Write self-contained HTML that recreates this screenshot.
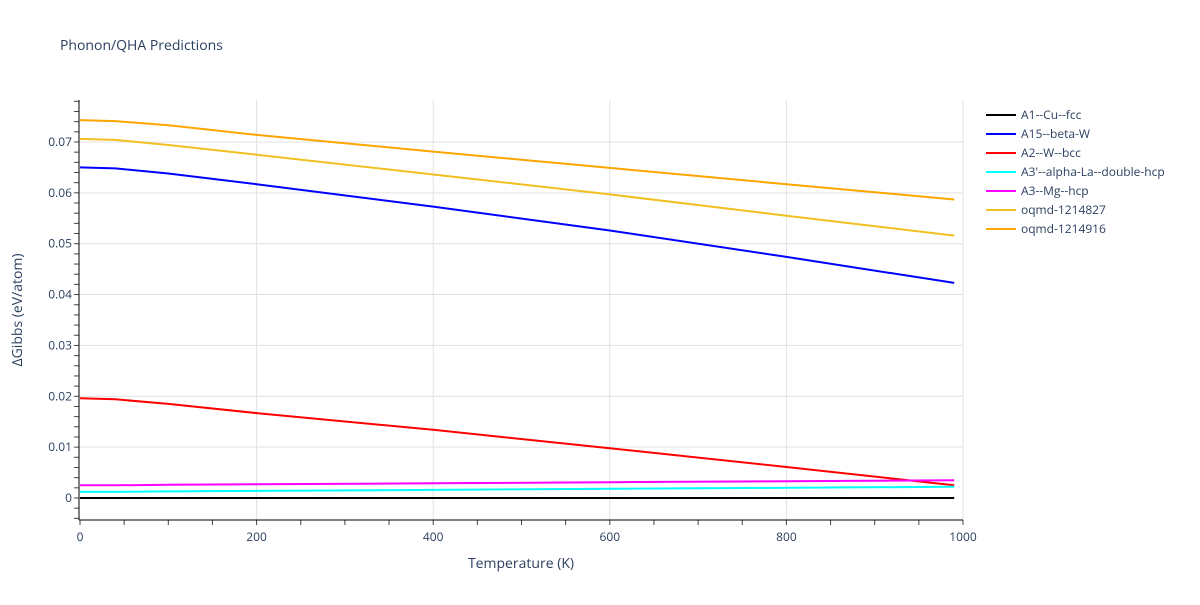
<!DOCTYPE html>
<html><head><meta charset="utf-8"><style>
body{margin:0;background:#fff;}
svg text{font-family:"Open Sans","Liberation Sans",sans-serif;fill:#2a3f5f;}
</style></head><body>
<svg id="chart" width="1200" height="600" xmlns="http://www.w3.org/2000/svg">
<rect width="1200" height="600" fill="#fff"/>
<text x="60" y="50" font-size="14">Phonon/QHA Predictions</text>
<g id="grid"></g><g id="series"></g><g id="axes"></g><g id="legend"></g>
<text x="521" y="568" font-size="14" text-anchor="middle">Temperature (K)</text>
<text transform="translate(22,310) rotate(-90)" font-size="14" text-anchor="middle">ΔGibbs (eV/atom)</text>
</svg>
<script>
const xTicks=[0,200,400,600,800,1000];
const yTicks=[0,0.01,0.02,0.03,0.04,0.05,0.06,0.07];
const yTickLabels=["0","0.01","0.02","0.03","0.04","0.05","0.06","0.07"];
const seriesNames=["A1--Cu--fcc","A15--beta-W","A2--W--bcc","A3'--alpha-La--double-hcp","A3--Mg--hcp","oqmd-1214827","oqmd-1214916"];
const seriesColors=["#000000","#0000ff","#ff0000","#00ffff","#ff00ff","#f0c020","#ffa500"];
const temps=[0,40,100,200,400,600,800,990];
const a1=[0,0,0,0,0,0,0,0];
const a15=[0.0650,0.0648,0.0638,0.0617,0.0573,0.0526,0.0474,0.0423];
const a2=[0.0196,0.0194,0.0185,0.0167,0.0134,0.0098,0.0061,0.0025];
const a3p=[0.0012,0.0012,0.0013,0.0014,0.0016,0.0018,0.0020,0.0022];
const a3=[0.0025,0.0025,0.0026,0.0027,0.0029,0.0031,0.0033,0.0035];
const o27=[0.0706,0.0704,0.0694,0.0675,0.0636,0.0597,0.0555,0.0516];
const o16=[0.0743,0.0741,0.0733,0.0714,0.0681,0.0649,0.0617,0.0587];
const allSeries=[a1,a15,a2,a3p,a3,o27,o16];
const X0=80,X1=963,Y0=498,YPER=5086;
const sx=v=>X0+(X1-X0)*v/1000;
const sy=v=>Y0-v*YPER;
const NS="http://www.w3.org/2000/svg";
function mk(tag,attrs,parent){const e=document.createElementNS(NS,tag);for(const k in attrs)e.setAttribute(k,attrs[k]);parent.appendChild(e);return e;}
const grid=document.getElementById('grid'),axes=document.getElementById('axes'),ser=document.getElementById('series'),leg=document.getElementById('legend');
xTicks.forEach(t=>{if(t>0){const l=mk('line',{x1:sx(t),x2:sx(t),y1:100,y2:520,stroke:'#e1e1e1'},grid);}
 const tx=mk('text',{x:sx(t),y:541,'font-size':12,'text-anchor':'middle'},axes);tx.textContent=t;});
for(let t=0;t<=1000;t+=50){const l=mk('line',{x1:sx(t),x2:sx(t),y1:520,y2:t%200==0?525:525,stroke:'#444'},axes);}
yTicks.forEach((t,i)=>{if(t>0){const l=mk('line',{x1:80,x2:963,y1:sy(t),y2:sy(t),stroke:'#e1e1e1'},grid);}
 const tx=mk('text',{x:72,y:sy(t)+4,'font-size':12,'text-anchor':'end'},axes);tx.textContent=yTickLabels[i];});
for(let k=-2;k<=39;k++){const v=k*0.002;const l=mk('line',{x1:74,x2:79,y1:sy(v),y2:sy(v),stroke:'#444'},axes);}
const ya=mk('line',{x1:79,x2:79,y1:100,y2:520,stroke:'#000'},axes);
const xa=mk('line',{x1:79,x2:963,y1:520,y2:520,stroke:'#000'},axes);
allSeries.forEach((s,i)=>{const d=s.map((v,j)=>(j?'L':'M')+sx(temps[j]).toFixed(1)+','+sy(v).toFixed(1)).join(' ');
 const p=mk('path',{d:d,fill:'none',stroke:seriesColors[i],'stroke-width':2},ser);
 const y=115+i*19;const ll=mk('line',{x1:986,x2:1016,y1:y,y2:y,stroke:seriesColors[i],'stroke-width':2},leg);
 const lt=mk('text',{x:1021,y:y+4,'font-size':12},leg);lt.textContent=seriesNames[i];});
</script>
</body></html>
